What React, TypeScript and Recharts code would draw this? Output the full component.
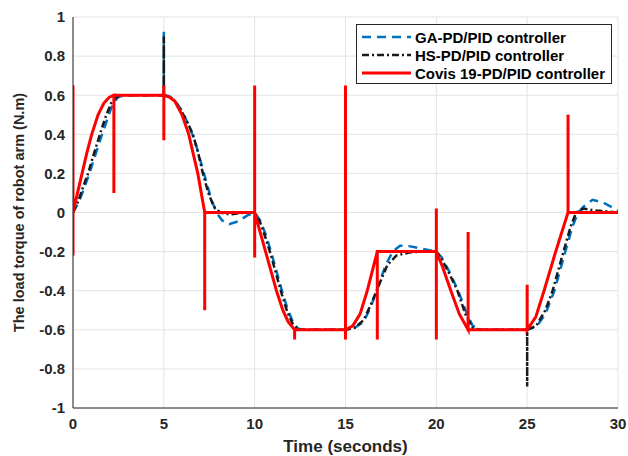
import { LineChart, Line, XAxis, YAxis, CartesianGrid } from "recharts";

const xTicks = [0, 5, 10, 15, 20, 25, 30];
const yTicks = [-1, -0.8, -0.6, -0.4, -0.2, 0, 0.2, 0.4, 0.6, 0.8, 1];

// GA-PD/PID controller
const gaTime = [
  0, 0.3, 0.6, 0.9, 1.25, 1.6, 1.9, 2.2, 2.5, 2.8, 5, 5, 5, 5.3, 5.6, 6.0, 6.35, 6.7, 7.0, 7.3, 7.6, 7.9,
  8.2, 8.6, 9.1, 9.6, 10, 10.3, 10.6, 10.9, 11.2, 11.5, 11.8, 12.1, 12.4, 12.7, 15, 15.5, 16.0, 16.4, 16.8,
  17.2, 17.6, 18.0, 18.5, 19.2, 20, 20.3, 20.7, 21.2, 21.65, 22.0, 22.5, 25, 25.5, 26.0, 26.5, 26.8, 27.1,
  27.5, 27.8, 28.1, 28.6, 29.2, 29.7, 30,
];
const gaTorque = [
  0, 0.05, 0.12, 0.2, 0.3, 0.4, 0.48, 0.56, 0.59, 0.6, 0.6, 0.93, 0.6, 0.595, 0.575, 0.52, 0.45, 0.37, 0.27,
  0.17, 0.07, 0.0, -0.04, -0.06, -0.045, -0.015, 0, -0.04, -0.11, -0.2, -0.3, -0.4, -0.49, -0.56, -0.595,
  -0.6, -0.6, -0.59, -0.56, -0.48, -0.38, -0.27, -0.2, -0.17, -0.172, -0.185, -0.2, -0.23, -0.3, -0.4, -0.51,
  -0.58, -0.6, -0.6, -0.585, -0.52, -0.4, -0.3, -0.2, -0.07, 0.0, 0.03, 0.065, 0.05, 0.025, 0.01,
];

// HS-PD/PID controller
const hsTime = [
  0, 0.3, 0.55, 0.83, 1.15, 1.48, 1.8, 2.1, 2.4, 2.7, 5, 5, 5, 5.3, 5.6, 5.9, 6.25, 6.6, 6.9, 7.15, 7.45,
  7.75, 8.1, 8.6, 9.5, 10, 10.3, 10.6, 10.9, 11.2, 11.5, 11.8, 12.1, 12.4, 15, 15.5, 16.0, 16.4, 16.8, 17.3,
  17.8, 18.5, 19.2, 20, 20.3, 20.7, 21.16, 21.6, 22.0, 22.4, 25, 25, 25, 25.5, 26.0, 26.4, 26.7, 27.0, 27.4,
  27.7, 28.1, 28.8, 30,
];
const hsTorque = [
  0, 0.06, 0.13, 0.2, 0.3, 0.4, 0.49, 0.56, 0.59, 0.6, 0.6, 0.9, 0.6, 0.59, 0.57, 0.53, 0.47, 0.4, 0.3, 0.2,
  0.1, 0.03, 0, -0.01, 0, 0, -0.05, -0.13, -0.22, -0.32, -0.42, -0.51, -0.57, -0.6, -0.6, -0.59, -0.55,
  -0.47, -0.38, -0.27, -0.22, -0.205, -0.2, -0.2, -0.24, -0.31, -0.4, -0.52, -0.59, -0.6, -0.6, -0.89, -0.6,
  -0.58, -0.5, -0.4, -0.3, -0.2, -0.07, 0, 0.02, 0.01, 0,
];

// Covis 19-PD/PID controller
const covTime = [
  0, 0, 0, 0, 0.25, 0.5, 0.75, 1.03, 1.38, 1.7, 2.0, 2.25, 2.25, 2.25, 5, 5, 5, 5, 5.3, 5.6, 6.0, 6.37,
  6.87, 7.25, 7.25, 7.25, 10, 10, 10, 10, 10.3, 10.6, 10.9, 11.2, 11.55, 11.85, 12.2, 12.2, 12.2, 15, 15,
  15, 15, 15.4, 15.8, 16.2, 16.75, 16.75, 16.75, 20, 20, 20, 20, 20.35, 20.8, 21.27, 21.75, 21.75, 21.75,
  25, 25, 25, 25.47, 25.93, 26.57, 27.25, 27.25, 27.25, 30,
];
const covTorque = [
  0, 0.65, -0.22, 0, 0.1, 0.2, 0.3, 0.4, 0.5, 0.56, 0.59, 0.6, 0.1, 0.6, 0.6, 0.65, 0.37, 0.6, 0.59, 0.57,
  0.5, 0.4, 0.2, 0, -0.5, 0, 0, 0.65, -0.23, 0, -0.1, -0.2, -0.3, -0.4, -0.5, -0.56, -0.6, -0.65, -0.6,
  -0.6, 0.65, -0.65, -0.6, -0.58, -0.52, -0.4, -0.2, -0.65, -0.2, -0.2, 0.02, -0.65, -0.2, -0.28, -0.4,
  -0.52, -0.6, -0.1, -0.6, -0.6, -0.37, -0.6, -0.535, -0.4, -0.2, 0, 0.5, 0, 0,
];

const toPoints = (t: number[], y: number[]) => t.map((v, i) => ({ time: v, torque: y[i] }));

const series = [
  { name: "GA-PD/PID controller", data: toPoints(gaTime, gaTorque), color: "#0072BD", dash: "9 6", width: 2.5 },
  { name: "HS-PD/PID controller", data: toPoints(hsTime, hsTorque), color: "#1a1a1a", dash: "7 3 2 3", width: 2.5 },
  { name: "Covis 19-PD/PID controller", data: toPoints(covTime, covTorque), color: "#ff0000", dash: undefined, width: 3 },
];

const font = "'Liberation Sans', Arial, sans-serif";

const LegendBox = () => (
  <div
    style={{
      position: "absolute",
      top: 24,
      left: 356,
      border: "1px solid #262626",
      background: "#fff",
      width: 256,
      height: 60,
      padding: "3px 0",
      boxSizing: "border-box",
      fontFamily: font,
      fontWeight: "bold",
      fontSize: 15,
      color: "#000",
    }}
  >
    {series.map((s) => (
      <div key={s.name} style={{ display: "flex", alignItems: "center", height: 18 }}>
        <svg width={58} height={10} style={{ flex: "none" }}>
          <line x1={5} y1={5} x2={54} y2={5} stroke={s.color} strokeWidth={s.width} strokeDasharray={s.dash} />
        </svg>
        <span style={{ whiteSpace: "nowrap" }}>{s.name}</span>
      </div>
    ))}
  </div>
);

const fmt = (v: number) => String(Number(v.toFixed(1)));

export default function App() {
  return (
    <div style={{ width: 628, height: 456, position: "relative", background: "#fff" }}>
      <style>{"body{margin:0}"}</style>
      <LineChart width={628} height={456} margin={{ top: 17, right: 10, bottom: 0, left: 0 }}>
        <CartesianGrid stroke="#e3e3e3" strokeWidth={1} />
        <XAxis
          dataKey="time"
          type="number"
          domain={[0, 30]}
          ticks={xTicks}
          allowDataOverflow
          height={48}
          tickSize={0}
          tickMargin={10}
          stroke="#262626"
          tick={{ fill: "#262626", fontSize: 15, fontWeight: "bold", fontFamily: font }}
          label={{
            value: "Time (seconds)",
            position: "insideBottom",
            offset: 4,
            fill: "#262626",
            fontSize: 17,
            fontWeight: "bold",
            fontFamily: font,
          }}
        />
        <XAxis xAxisId="top" orientation="top" type="number" domain={[0, 30]} ticks={xTicks} height={0} tick={false} tickLine={false} stroke="#262626" />
        <YAxis
          type="number"
          domain={[-1, 1]}
          ticks={yTicks}
          allowDataOverflow
          width={73}
          tickSize={0}
          tickMargin={8}
          tickFormatter={fmt}
          stroke="#262626"
          tick={{ fill: "#262626", fontSize: 15, fontWeight: "bold", fontFamily: font }}
          label={{
            value: "The load torque of robot arm (N.m)",
            angle: -90,
            position: "insideLeft",
            offset: 19,
            style: { textAnchor: "middle" },
            fill: "#262626",
            fontSize: 14.5,
            fontWeight: "bold",
            fontFamily: font,
          }}
        />
        <YAxis yAxisId="right" orientation="right" type="number" domain={[-1, 1]} ticks={yTicks} width={0} tick={false} tickLine={false} stroke="#262626" />
        {series.map((s) => (
          <Line
            key={s.name}
            data={s.data}
            dataKey="torque"
            name={s.name}
            type="linear"
            stroke={s.color}
            strokeWidth={s.width}
            strokeDasharray={s.dash}
            dot={false}
            activeDot={false}
            isAnimationActive={false}
          />
        ))}
      </LineChart>
      <LegendBox />
    </div>
  );
}
